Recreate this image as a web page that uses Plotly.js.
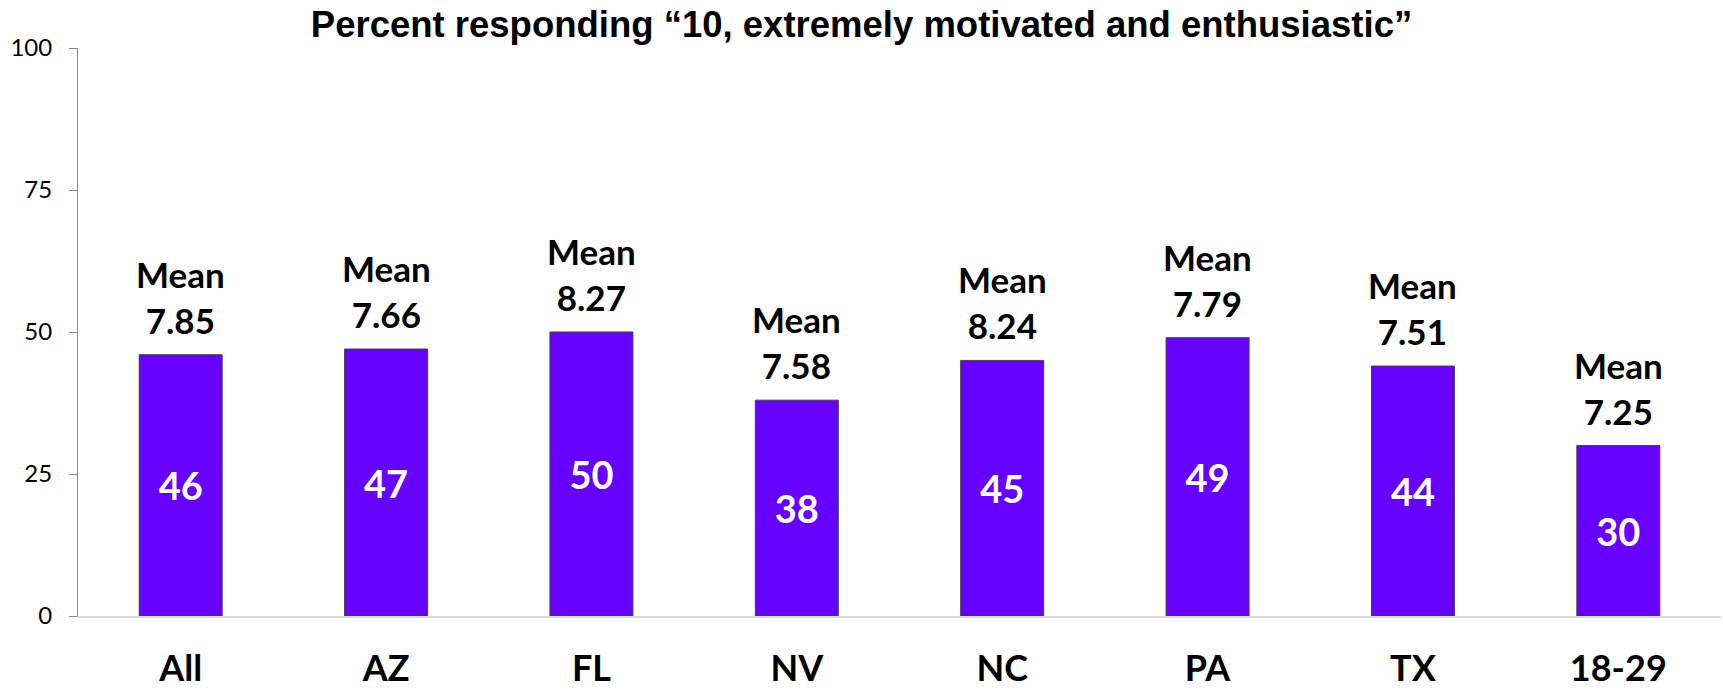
<!DOCTYPE html>
<html>
<head>
<meta charset="utf-8">
<script src="https://cdn.plot.ly/plotly-3.0.1.min.js"></script>
<style>
  html, body { margin: 0; padding: 0; background: #ffffff; }
  #chart { width: 1723px; height: 690px; }
</style>
</head>
<body>
<div id="chart"></div>
<script>
const categories = ["All", "AZ", "FL", "NV", "NC", "PA", "TX", "18-29"];
const percents = [46, 47, 50, 38, 45, 49, 44, 30];
const means = ["7.85", "7.66", "8.27", "7.58", "8.24", "7.79", "7.51", "7.25"];
const yTicks = [0, 25, 50, 75, 100];
const chartTitle = "Percent responding \u201c10, extremely motivated and enthusiastic\u201d";

const labelFont = "Lato, 'Open Sans', sans-serif";

const trace = {
  type: "bar",
  x: categories,
  y: percents,
  text: percents.map(String),
  textposition: "inside",
  insidetextanchor: "middle",
  textangle: 0,
  constraintext: "none",
  textfont: { family: labelFont, size: 38, color: "#ffffff", weight: 700 },
  marker: { color: "#6600ff", line: { color: "#404040", width: 1 } },
  hoverinfo: "none"
};

const annotations = categories.map((c, i) => ({
  x: c,
  y: percents[i],
  xref: "x",
  yref: "y",
  text: "Mean<br>" + means[i],
  showarrow: false,
  xanchor: "center",
  yanchor: "bottom",
  yshift: 12,
  font: { family: labelFont, size: 35, color: "#000000", weight: 700 }
}));

const layout = {
  width: 1723,
  height: 690,
  paper_bgcolor: "#ffffff",
  plot_bgcolor: "#ffffff",
  margin: { l: 78, r: 2, t: 48, b: 74, pad: 0 },
  showlegend: false,
  bargap: 0.596,
  title: {
    text: chartTitle,
    font: { family: "'Liberation Sans', Arial, sans-serif", size: 36.5, color: "#000000", weight: 700 },
    x: 0.5,
    xref: "container",
    xanchor: "center",
    y: 1 - 24 / 690,
    yref: "container",
    yanchor: "middle"
  },
  xaxis: {
    type: "category",
    showline: true,
    linecolor: "#d9d9d9",
    linewidth: 2,
    ticks: "",
    showgrid: false,
    zeroline: false,
    tickfont: { family: labelFont, size: 36, color: "#000000", weight: 700 },
    ticklabelstandoff: 20
  },
  yaxis: {
    range: [0, 100],
    tickvals: yTicks,
    ticktext: yTicks.map(String),
    showline: true,
    linecolor: "#8c8c8c",
    linewidth: 1,
    ticks: "outside",
    ticklen: 8,
    tickcolor: "#8c8c8c",
    tickwidth: 1,
    showgrid: false,
    zeroline: false,
    tickfont: { family: labelFont, size: 24, color: "#000000" },
    ticklabelstandoff: 12
  },
  annotations: annotations
};

Plotly.newPlot("chart", [trace], layout, { displayModeBar: false, staticPlot: true });
</script>
</body>
</html>
